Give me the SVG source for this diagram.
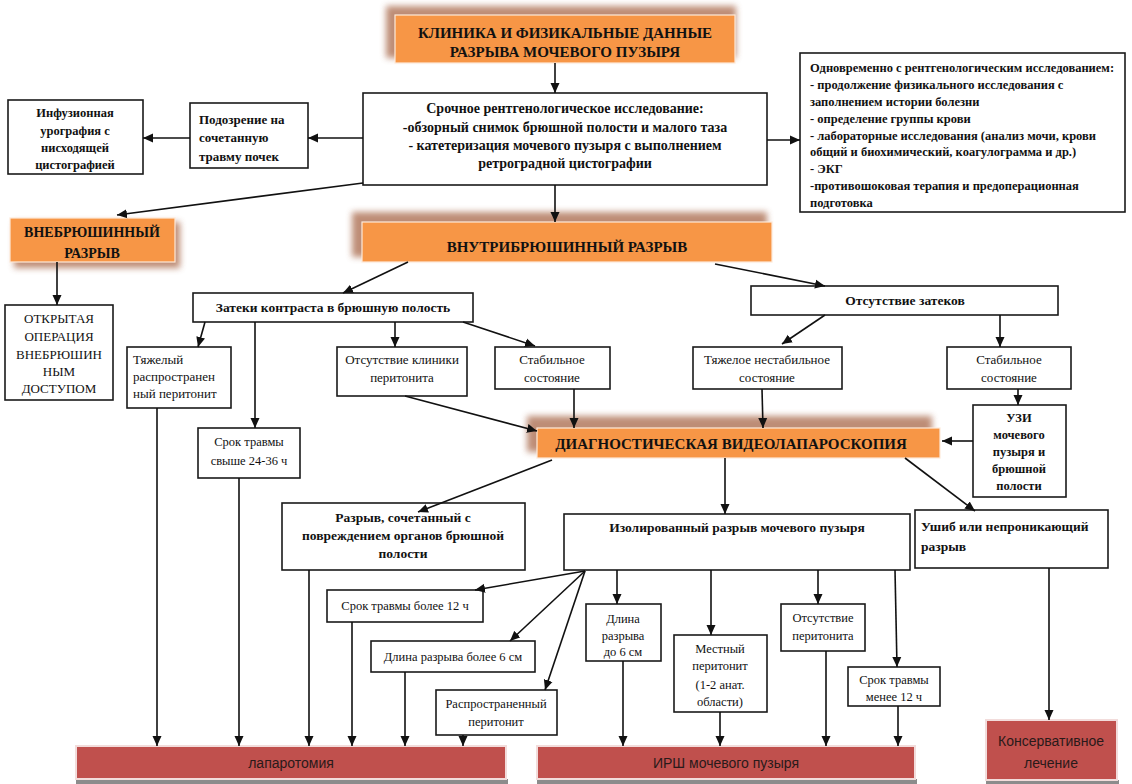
<svg xmlns="http://www.w3.org/2000/svg" width="1132" height="784" viewBox="0 0 1132 784">
<defs>
<marker id="ah" markerWidth="10" markerHeight="10" refX="10" refY="5" orient="auto" markerUnits="userSpaceOnUse">
<path d="M0,0.5 L10,5 L0,9.5 z" fill="#111"/>
</marker>
<filter id="blur" x="-10%" y="-50%" width="120%" height="200%"><feGaussianBlur stdDeviation="3"/></filter>
<style>
.box{fill:#fff;stroke:#1a1a1a;stroke-width:1.6}
.or{fill:#f79646;stroke:#fde9d9;stroke-width:1.2}
.sh{fill:#a8684a;opacity:0.75;filter:url(#blur)}
.red{fill:#c0504d;stroke:#f2dcdb;stroke-width:2}
.rsh{fill:#8c8c8c}
.b{font-family:"Liberation Serif",serif;font-weight:bold;fill:#111}
.r{font-family:"Liberation Serif",serif;fill:#111}
.s{font-family:"Liberation Sans","Open Sans",sans-serif;fill:#2a1a1a;font-size:14px}
.c{text-anchor:middle}
.con line{stroke:#111;stroke-width:1.6;marker-end:url(#ah)}
.con line.n{marker-end:none}
</style>
</defs>

<g id="title">
<rect class="sh" x="386" y="6" width="350" height="52"/>
<rect class="or" x="395" y="15" width="340" height="48"/>
<text class="b c" x="565" y="38" font-size="15">КЛИНИКА И ФИЗИКАЛЬНЫЕ ДАННЫЕ</text>
<text class="b c" x="565" y="57" font-size="15">РАЗРЫВА МОЧЕВОГО ПУЗЫРЯ</text>
</g>

<g id="xray">
<rect class="box" x="363" y="93" width="404" height="92"/>
<text class="b c" x="565" y="113" font-size="14">Срочное рентгенологическое исследование:</text>
<text class="b c" x="565" y="132" font-size="14">-обзорный снимок брюшной полости и малого таза</text>
<text class="b c" x="565" y="150" font-size="14">- катетеризация мочевого пузыря с выполнением</text>
<text class="b c" x="565" y="168" font-size="14">ретроградной цистографии</text>
</g>

<g id="simult">
<rect class="box" x="800" y="53" width="325" height="159"/>
<text class="b" x="810" y="72" font-size="12.5">Одновременно с рентгенологическим исследованием:</text>
<text class="b" x="810" y="89" font-size="12.5">- продолжение физикального исследования с</text>
<text class="b" x="810" y="106" font-size="12.5">заполнением истории болезни</text>
<text class="b" x="810" y="123" font-size="12.5">- определение группы крови</text>
<text class="b" x="810" y="140" font-size="12.5">- лабораторные исследования (анализ мочи, крови</text>
<text class="b" x="810" y="156" font-size="12.5">общий и биохимический, коагулограмма и др.)</text>
<text class="b" x="810" y="173" font-size="12.5">- ЭКГ</text>
<text class="b" x="810" y="190" font-size="12.5">-противошоковая терапия и предоперационная</text>
<text class="b" x="810" y="207" font-size="12.5">подготовка</text>
</g>

<g id="suspect">
<rect class="box" x="190" y="103" width="118" height="65"/>
<text class="b" x="199" y="124" font-size="13">Подозрение на</text>
<text class="b" x="199" y="142" font-size="13">сочетанную</text>
<text class="b" x="199" y="161" font-size="13">травму почек</text>
</g>

<g id="urography">
<rect class="box" x="8" y="100" width="135" height="74"/>
<text class="b c" x="75" y="117" font-size="12.5">Инфузионная</text>
<text class="b c" x="75" y="135" font-size="12.5">урография с</text>
<text class="b c" x="75" y="152" font-size="12.5">нисходящей</text>
<text class="b c" x="75" y="169" font-size="12.5">цистографией</text>
</g>

<g id="extra">
<rect class="sh" x="14" y="222" width="166" height="46"/>
<rect class="or" x="10" y="218" width="165" height="44"/>
<text class="b c" x="92" y="237" font-size="14">ВНЕБРЮШИННЫЙ</text>
<text class="b c" x="92" y="258" font-size="14">РАЗРЫВ</text>
</g>

<g id="openop">
<rect class="box" x="5" y="305" width="108" height="95"/>
<text class="r c" x="59" y="323" font-size="13">ОТКРЫТАЯ</text>
<text class="r c" x="59" y="341" font-size="13">ОПЕРАЦИЯ</text>
<text class="r c" x="59" y="359" font-size="13">ВНЕБРЮШИН</text>
<text class="r c" x="59" y="376" font-size="13">НЫМ</text>
<text class="r c" x="59" y="393" font-size="13">ДОСТУПОМ</text>
</g>

<g id="intra">
<rect class="sh" x="352" y="212" width="415" height="45"/>
<rect class="or" x="362" y="222" width="410" height="40"/>
<text class="b c" x="567" y="252" font-size="15">ВНУТРИБРЮШИННЫЙ РАЗРЫВ</text>
</g>

<g id="leaks">
<rect class="box" x="193" y="293" width="280" height="29"/>
<text class="b c" x="333" y="312" font-size="13.5">Затеки контраста в брюшную полость</text>
</g>

<g id="noleaks">
<rect class="box" x="751" y="286" width="307" height="29"/>
<text class="b c" x="905" y="305" font-size="13.5">Отсутствие затеков</text>
</g>

<g id="severe">
<rect class="box" x="127" y="347" width="104" height="61"/>
<text class="r" x="133" y="364" font-size="13">Тяжелый</text>
<text class="r" x="133" y="381" font-size="13">распространен</text>
<text class="r" x="133" y="398" font-size="13">ный перитонит</text>
</g>

<g id="noclinic">
<rect class="box" x="337" y="347" width="130" height="49"/>
<text class="r c" x="402" y="364" font-size="13">Отсутствие клиники</text>
<text class="r c" x="402" y="382" font-size="13">перитонита</text>
</g>

<g id="stable1">
<rect class="box" x="495" y="347" width="115" height="42"/>
<text class="r c" x="552" y="364" font-size="13">Стабильное</text>
<text class="r c" x="552" y="382" font-size="13">состояние</text>
</g>

<g id="unstable">
<rect class="box" x="693" y="347" width="149" height="42"/>
<text class="r c" x="767" y="364" font-size="13">Тяжелое нестабильное</text>
<text class="r c" x="767" y="382" font-size="13">состояние</text>
</g>

<g id="stable2">
<rect class="box" x="947" y="347" width="124" height="42"/>
<text class="r c" x="1009" y="364" font-size="13">Стабильное</text>
<text class="r c" x="1009" y="382" font-size="13">состояние</text>
</g>

<g id="uzi">
<rect class="box" x="973" y="405" width="93" height="92"/>
<text class="b c" x="1019" y="422" font-size="12.5">УЗИ</text>
<text class="b c" x="1019" y="439" font-size="12.5">мочевого</text>
<text class="b c" x="1019" y="456" font-size="12.5">пузыря и</text>
<text class="b c" x="1019" y="473" font-size="12.5">брюшной</text>
<text class="b c" x="1019" y="490" font-size="12.5">полости</text>
</g>

<g id="video">
<rect class="sh" x="527" y="416" width="405" height="36"/>
<rect class="or" x="537" y="428" width="403" height="30"/>
<text class="b c" x="731" y="449" font-size="15">ДИАГНОСТИЧЕСКАЯ ВИДЕОЛАПАРОСКОПИЯ</text>
</g>

<g id="term24">
<rect class="box" x="198" y="428" width="102" height="50"/>
<text class="r c" x="249" y="446" font-size="12.5">Срок травмы</text>
<text class="r c" x="249" y="465" font-size="12.5">свыше 24-36 ч</text>
</g>

<g id="combined">
<rect class="box" x="282" y="503" width="243" height="67"/>
<text class="b c" x="403" y="522" font-size="13.5">Разрыв, сочетанный с</text>
<text class="b c" x="403" y="540" font-size="13.5">повреждением органов  брюшной</text>
<text class="b c" x="403" y="558" font-size="13.5">полости</text>
</g>

<g id="isolated">
<rect class="box" x="564" y="514" width="346" height="56"/>
<text class="b c" x="737" y="532" font-size="13.5">Изолированный разрыв мочевого пузыря</text>
</g>

<g id="contusion">
<rect class="box" x="915" y="510" width="193" height="58"/>
<text class="b" x="921" y="531" font-size="13.5">Ушиб или непроникающий</text>
<text class="b" x="921" y="551" font-size="13.5">разрыв</text>
</g>

<g id="term12more">
<rect class="box" x="327" y="590" width="156" height="32"/>
<text class="r c" x="405" y="610" font-size="12.5">Срок травмы более 12  ч</text>
</g>

<g id="len6more">
<rect class="box" x="371" y="641" width="164" height="31"/>
<text class="r c" x="453" y="661" font-size="12.5">Длина разрыва более 6 см</text>
</g>

<g id="widespread">
<rect class="box" x="436" y="690" width="121" height="45"/>
<text class="r c" x="496" y="708" font-size="12.5">Распространенный</text>
<text class="r c" x="496" y="726" font-size="12.5">перитонит</text>
</g>

<g id="len6less">
<rect class="box" x="586" y="604" width="75" height="57"/>
<text class="r c" x="623" y="623" font-size="12.5">Длина</text>
<text class="r c" x="623" y="640" font-size="12.5">разрыва</text>
<text class="r c" x="623" y="656" font-size="12.5">до 6 см</text>
</g>

<g id="local">
<rect class="box" x="674" y="635" width="93" height="77"/>
<text class="r c" x="720" y="653" font-size="12.5">Местный</text>
<text class="r c" x="720" y="670" font-size="12.5">перитонит</text>
<text class="r c" x="720" y="689" font-size="12.5">(1-2 анат.</text>
<text class="r c" x="720" y="706" font-size="12.5">области)</text>
</g>

<g id="noperit">
<rect class="box" x="781" y="604" width="84" height="47"/>
<text class="r c" x="823" y="622" font-size="12.5">Отсутствие</text>
<text class="r c" x="823" y="640" font-size="12.5">перитонита</text>
</g>

<g id="term12less">
<rect class="box" x="848" y="667" width="92" height="39"/>
<text class="r c" x="894" y="684" font-size="12.5">Срок травмы</text>
<text class="r c" x="894" y="701" font-size="12.5">менее 12 ч</text>
</g>

<g id="laparotomy">
<rect class="rsh" x="76" y="779" width="432" height="5"/>
<rect class="red" x="76" y="746" width="430" height="33"/>
<text class="s c" x="291" y="768">лапаротомия</text>
</g>

<g id="irsh">
<rect class="rsh" x="537" y="779" width="380" height="5"/>
<rect class="red" x="537" y="746" width="378" height="33"/>
<text class="s c" x="726" y="768">ИРШ мочевого пузыря</text>
</g>

<g id="conservative">
<rect class="rsh" x="986" y="780" width="133" height="4"/>
<rect class="red" x="986" y="720" width="131" height="60"/>
<text class="s c" x="1051" y="746">Консервативное</text>
<text class="s c" x="1051" y="768">лечение</text>
</g>

<g id="connectors" class="con">
<line x1="555" y1="63" x2="555" y2="93"/>
<line x1="767" y1="140" x2="800" y2="140"/>
<line x1="363" y1="138" x2="308" y2="138"/>
<line x1="190" y1="138" x2="143" y2="138"/>
<line x1="363" y1="183" x2="117" y2="215"/>
<line x1="57" y1="262" x2="57" y2="305"/>
<line x1="555" y1="185" x2="555" y2="222"/>
<line x1="408" y1="262" x2="343" y2="293"/>
<line x1="715" y1="264" x2="825" y2="286"/>
<line x1="205" y1="322" x2="198" y2="347"/>
<line x1="255" y1="322" x2="255" y2="428"/>
<line x1="395" y1="322" x2="395" y2="347"/>
<line x1="463" y1="322" x2="535" y2="346"/>
<line x1="825" y1="315" x2="782" y2="344"/>
<line x1="1000" y1="315" x2="1000" y2="347"/>
<line x1="1018" y1="389" x2="1018" y2="405"/>
<line x1="405" y1="396" x2="537" y2="431"/>
<line x1="574" y1="389" x2="574" y2="428"/>
<line x1="762" y1="389" x2="763" y2="428"/>
<line x1="973" y1="441" x2="942" y2="441"/>
<line x1="552" y1="460" x2="418" y2="512"/>
<line x1="725" y1="458" x2="725" y2="514"/>
<line x1="905" y1="458" x2="975" y2="511"/>
<line x1="585" y1="571" x2="475" y2="590"/>
<line x1="585" y1="571" x2="510" y2="641"/>
<line x1="585" y1="571" x2="545" y2="690"/>
<line x1="617" y1="570" x2="617" y2="604"/>
<line x1="711" y1="570" x2="711" y2="635"/>
<line x1="818" y1="570" x2="818" y2="604"/>
<line x1="895" y1="570" x2="897" y2="667"/>
<line x1="157" y1="408" x2="157" y2="746"/>
<line x1="239" y1="478" x2="239" y2="746"/>
<line x1="309" y1="570" x2="309" y2="746"/>
<line x1="352" y1="622" x2="352" y2="746"/>
<line x1="405" y1="672" x2="405" y2="746"/>
<line x1="463" y1="735" x2="463" y2="746"/>
<line x1="623" y1="661" x2="623" y2="746"/>
<line x1="720" y1="712" x2="720" y2="746"/>
<line x1="826" y1="651" x2="826" y2="746"/>
<line x1="898" y1="706" x2="898" y2="746"/>
<line x1="1049" y1="568" x2="1049" y2="720"/>
</g>
</svg>
